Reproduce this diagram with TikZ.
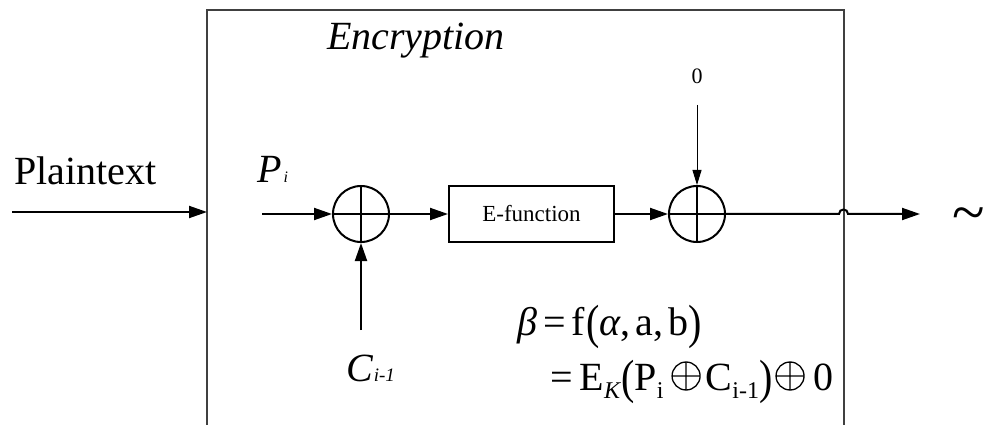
\documentclass[tikz,border=0pt]{standalone}
\usepackage{fontspec}
\usepackage{graphicx}
\setmainfont{Liberation Serif}
\usetikzlibrary{arrows.meta}
\newcommand{\bigtxt}{\fontsize{40}{48}\selectfont}
\newcommand{\subtxt}{\fontsize{24}{28}\selectfont}
\newcommand{\xo}{\kern2pt\tikz[x=1pt,y=1pt,baseline=0pt]{\draw[line width=1.3pt] (14.5,14) circle (14) (0.5,14)--(28.5,14) (14.5,0)--(14.5,28);}\kern2pt}
\newcommand{\bp}[1]{\raisebox{-3pt}{\scalebox{1}[1.2]{#1}}}
\begin{document}
\begin{tikzpicture}[x=1pt,y=-1pt,
  wire/.style={line width=2pt},
  thinwire/.style={line width=1pt},
  tip/.style={-{Triangle[length=18pt,width=12pt]}},
  smalltip/.style={-{Triangle[length=15pt,width=9pt]}},
  xorgate/.style={circle,draw,line width=2pt,minimum size=56pt,inner sep=0pt,
    path picture={\draw[line width=2pt] (path picture bounding box.north) -- (path picture bounding box.south)
      (path picture bounding box.west) -- (path picture bounding box.east);}},
  fbox/.style={draw,line width=2pt,minimum width=165pt,minimum height=56pt,inner sep=0pt,font=\fontsize{23}{27}\selectfont},
  lbl/.style={inner sep=0pt,anchor=base west}]
\useasboundingbox (0,0) rectangle (997,425);
% outer frame
\draw[line width=1.5pt,draw=black!75] (207,425) -- (207,10) -- (844,10) -- (844,425);
\node[lbl] (enc) at (327,50) {\bigtxt\itshape Encryption};
\node[lbl] (plain) at (14,185) {\bigtxt Plaintext};
\coordinate (pin) at (12,212);
\coordinate (boxin) at (207,212);
\draw[wire,tip] (pin) -- (boxin);
% xor 1
\node[xorgate] (x1) at (361,214) {};
\coordinate (pstart) at (262,214);
\draw[wire,tip] (pstart) -- (x1.west);
\node[lbl] (pi) at (257,183) {\bigtxt\itshape P\kern2pt{\fontsize{16}{18}\selectfont i}};
\coordinate (cstart) at (361,330);
\draw[wire,tip] (cstart) -- (x1.south);
\node[lbl] (ci) at (346,381) {\bigtxt\itshape C\kern1pt{\fontsize{19}{22}\selectfont i-1}};
% E-function
\node[fbox] (ef) at (531.5,214) {E-function};
\draw[wire,tip] (x1.east) -- (ef.west);
% xor 2
\node[xorgate] (x2) at (697,214) {};
\draw[wire,tip] (ef.east) -- (x2.west);
\node[inner sep=0pt,font=\fontsize{22}{26}\selectfont] (zero) at (697,76) {0};
\coordinate (zstart) at (697,105);
\draw[thinwire,smalltip] (zstart) -- (x2.north);
% output with jump over frame
\coordinate (jA) at (839,214);
\coordinate (jB) at (848,214);
\coordinate (out) at (920,214);
\draw[wire,tip] (x2.east) -- (jA) .. controls (839,208) and (848,208) .. (jB) -- (out);
\node[inner sep=0pt,font=\fontsize{60}{60}\selectfont] (tl) at (969,220) {\symbol{126}};
% formula
\node[lbl] (f1) at (517,335) {\bigtxt\itshape β\upshape\kern6pt=\kern6pt f\kern1pt\bp{(}\itshape α\upshape,\kern5pt a,\kern5pt b\bp{)}};
\node[lbl] (f2) at (550,390) {\bigtxt =\kern7pt E\raisebox{-8pt}{\subtxt\itshape K}\kern1pt\bp{(}P\raisebox{-8pt}{\subtxt i}\kern6pt\xo\kern3pt C\raisebox{-8pt}{\subtxt i-1}\bp{)}\kern1pt\xo\kern7pt 0};
\end{tikzpicture}
\end{document}
